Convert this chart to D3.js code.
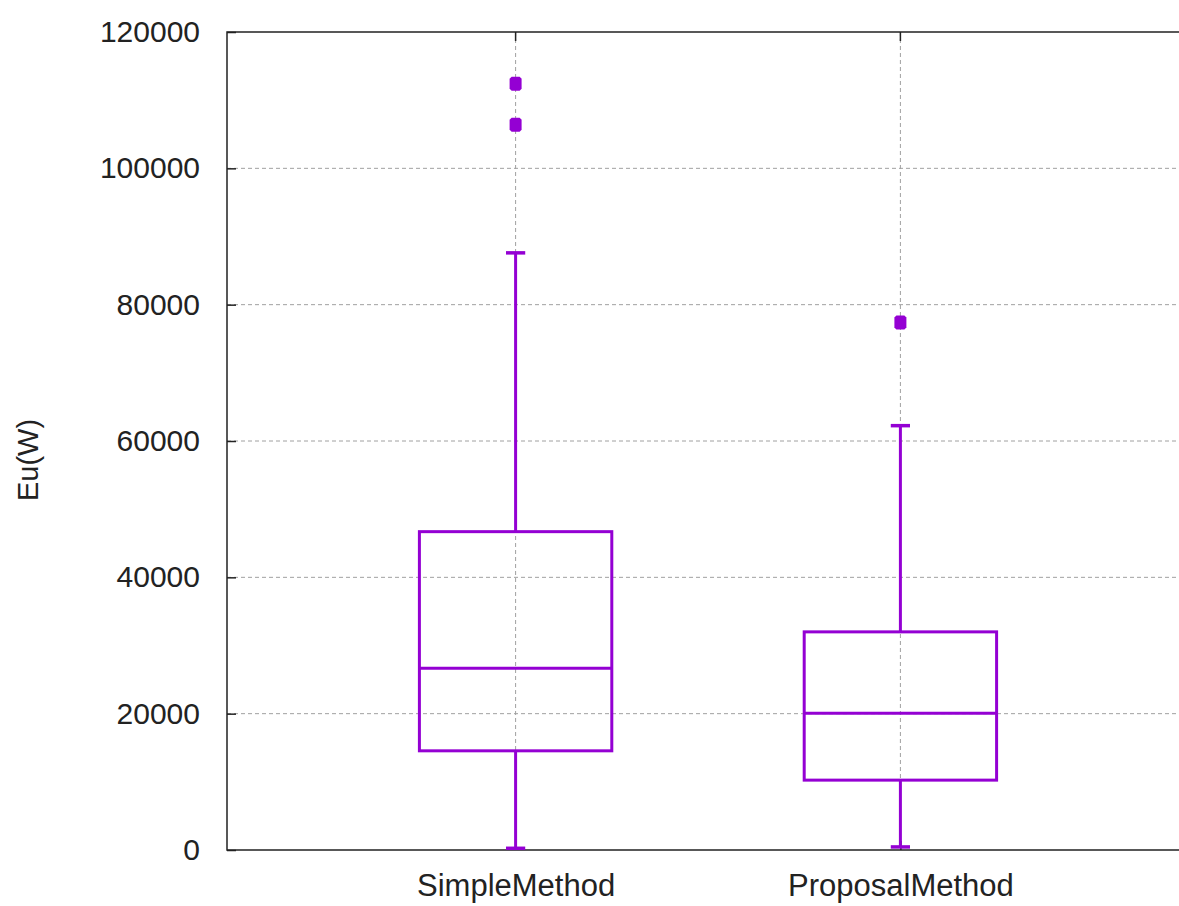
<!DOCTYPE html>
<html>
<head>
<meta charset="utf-8">
<script src="https://cdn.jsdelivr.net/npm/d3@7.9.0/dist/d3.min.js"></script>
<style>
  body { margin: 0; background: #fff; }
  svg text { font-family: "Liberation Sans", Arial, sans-serif; fill: #222; }
</style>
</head>
<body>
<div id="chart"></div>
<script>
// box plot data
const categories = ['SimpleMethod', 'ProposalMethod'];
const whiskerLow = [250, 450];
const q1 = [14550, 10250];
const median = [26650, 20050];
const q3 = [46700, 32000];
const whiskerHigh = [87600, 62250];
const outliers = [[112400, 106400], [77400]];
const yTicks = [0, 20000, 40000, 60000, 80000, 100000, 120000];

const width = 1179;
const height = 906;
const color = '#9400d3';

const svg = d3.select('#chart')
    .append('svg')
    .attr('width', width)
    .attr('height', height);

const plot = {left: 227, top: 32, right: 1189, bottom: 850};

// categories sit at x = 1, 2 like gnuplot does
const xScale = d3.scaleLinear().domain([0.25, 2.75]).range([plot.left, plot.right]);
const yScale = d3.scaleLinear().domain([0, 120000]).range([plot.bottom, plot.top]);

const boxWidth = 0.5;
const capWidth = 0.05;

// gridlines
const grid = svg.append('g')
    .attr('stroke', '#a0a0a0')
    .attr('stroke-width', 1)
    .attr('stroke-dasharray', '4,3');
grid.selectAll('line.h')
    .data(yTicks.filter(d => d > 0 && d < 120000))
    .join('line')
    .attr('x1', plot.left)
    .attr('x2', plot.right)
    .attr('y1', d => yScale(d))
    .attr('y2', d => yScale(d));
grid.selectAll('line.v')
    .data(categories)
    .join('line')
    .attr('x1', (d, i) => xScale(i + 1))
    .attr('x2', (d, i) => xScale(i + 1))
    .attr('y1', plot.top)
    .attr('y2', plot.bottom);

// axes
const yAxis = d3.axisLeft(yScale)
    .tickValues(yTicks)
    .tickFormat(d3.format('d'))
    .tickSize(-9)
    .tickPadding(27);
const yAxisG = svg.append('g')
    .attr('transform', `translate(${plot.left},0)`)
    .call(yAxis);
yAxisG.select('.domain').remove();
yAxisG.selectAll('.tick line').attr('stroke', '#222').attr('stroke-width', 1.5);
yAxisG.selectAll('.tick text')
    .attr('font-size', 30)
    .attr('font-family', '"Liberation Sans", Arial, sans-serif')
    .attr('fill', '#222');

const xAxis = d3.axisBottom(xScale)
    .tickValues([1, 2])
    .tickFormat(d => categories[d - 1])
    .tickSize(-9)
    .tickPadding(24);
const xAxisG = svg.append('g')
    .attr('transform', `translate(0,${plot.bottom})`)
    .call(xAxis);
xAxisG.select('.domain').remove();
xAxisG.selectAll('.tick line').attr('stroke', '#222').attr('stroke-width', 1.5);
xAxisG.selectAll('.tick text')
    .attr('font-size', 31)
    .attr('font-family', '"Liberation Sans", Arial, sans-serif')
    .attr('fill', '#222');

// mirrored ticks on top border
svg.append('g')
    .selectAll('line')
    .data([1, 2])
    .join('line')
    .attr('x1', d => xScale(d))
    .attr('x2', d => xScale(d))
    .attr('y1', plot.top)
    .attr('y2', plot.top + 9)
    .attr('stroke', '#222')
    .attr('stroke-width', 1.5);

// frame
svg.append('path')
    .attr('d', `M${plot.right},${plot.top}H${plot.left}V${plot.bottom}H${plot.right}`)
    .attr('fill', 'none')
    .attr('stroke', '#222')
    .attr('stroke-width', 1.5);

// y label
svg.append('text')
    .attr('transform', 'translate(38,460) rotate(-90)')
    .attr('text-anchor', 'middle')
    .attr('font-size', 29)
    .text('Eu(W)');

// boxes
const boxes = svg.append('g')
    .attr('fill', 'none')
    .attr('stroke', color)
    .attr('stroke-width', 3);

categories.forEach((cat, i) => {
    const cx = i + 1;
    const g = boxes.append('g');
    // whiskers
    g.append('line')
        .attr('x1', xScale(cx)).attr('x2', xScale(cx))
        .attr('y1', yScale(q3[i])).attr('y2', yScale(whiskerHigh[i]));
    g.append('line')
        .attr('x1', xScale(cx)).attr('x2', xScale(cx))
        .attr('y1', yScale(q1[i])).attr('y2', yScale(whiskerLow[i]));
    // caps
    [whiskerHigh[i], whiskerLow[i]].forEach(v => {
        g.append('line')
            .attr('x1', xScale(cx - capWidth / 2)).attr('x2', xScale(cx + capWidth / 2))
            .attr('y1', yScale(v)).attr('y2', yScale(v))
            .attr('stroke-width', 3.5);
    });
    // box
    g.append('rect')
        .attr('x', xScale(cx - boxWidth / 2))
        .attr('y', yScale(q3[i]))
        .attr('width', xScale(cx + boxWidth / 2) - xScale(cx - boxWidth / 2))
        .attr('height', yScale(q1[i]) - yScale(q3[i]));
    // median
    g.append('line')
        .attr('x1', xScale(cx - boxWidth / 2)).attr('x2', xScale(cx + boxWidth / 2))
        .attr('y1', yScale(median[i])).attr('y2', yScale(median[i]));
});

// outliers as small filled squares with clipped corners
const pts = categories.flatMap((cat, i) => outliers[i].map(v => ({x: i + 1, v})));
svg.append('g')
    .selectAll('path')
    .data(pts)
    .join('path')
    .attr('d', d => {
        const x = xScale(d.x), y = yScale(d.v);
        return `M${x - 6},${y - 5}L${x - 4},${y - 7}H${x + 4}L${x + 6},${y - 5}V${y + 5}L${x + 4},${y + 7}H${x - 4}L${x - 6},${y + 5}Z`;
    })
    .attr('fill', color);
</script>
</body>
</html>
